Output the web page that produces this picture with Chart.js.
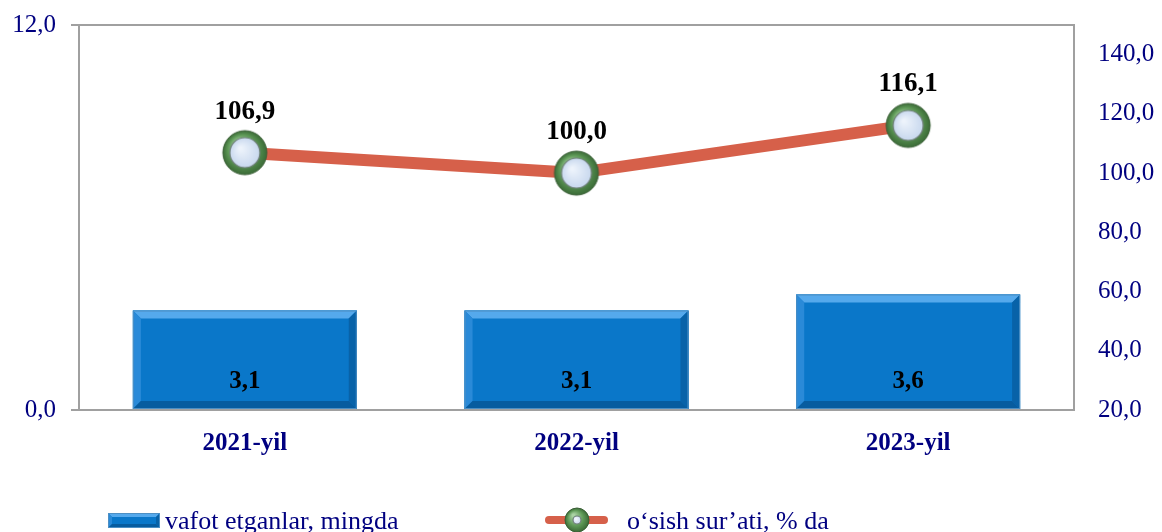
<!DOCTYPE html>
<html>
<head>
<meta charset="utf-8">
<script src="https://cdn.jsdelivr.net/npm/chart.js@4.4.1/dist/chart.umd.min.js"></script>
<style>
  html, body { margin: 0; padding: 0; background: #fff; }
  #wrap { width: 1162px; height: 532px; }
</style>
</head>
<body>
<div id="wrap"><canvas id="graph"></canvas></div>
<script>
// donnees
const categories = ['2021-yil', '2022-yil', '2023-yil'];
const deaths = [3.1, 3.1, 3.6];
const growth = [106.9, 100.0, 116.1];
const leftTicks = [0, 12];
const rightTicks = [20, 40, 60, 80, 100, 120, 140];
const barLabel = 'vafot etganlar, mingda';
const lineLabel = 'o\u2018sish sur\u2019ati, % da';

const navy = '#000080';
const serif = "'Liberation Serif', 'Times New Roman', serif";
const fmt = v => v.toFixed(1).replace('.', ',');

// marker du point (anneau vert + centre clair)
function makeMarker(r, inner) {
  const s = r * 2 + 4;
  const c = document.createElement('canvas');
  c.width = s; c.height = s;
  const g = c.getContext('2d');
  const m = s / 2;
  const grad = g.createRadialGradient(m - r * 0.3, m - r * 0.4, r * 0.1, m, m, r);
  grad.addColorStop(0, '#a9d2a3');
  grad.addColorStop(0.6, '#5f9a58');
  grad.addColorStop(1, '#3b6b37');
  g.beginPath(); g.arc(m, m, r, 0, Math.PI * 2);
  g.fillStyle = grad; g.fill();
  g.lineWidth = 1; g.strokeStyle = '#3a5f36'; g.stroke();
  g.beginPath(); g.arc(m, m, inner, 0, Math.PI * 2);
  const g2 = g.createRadialGradient(m - inner * 0.3, m - inner * 0.3, 1, m, m, inner);
  g2.addColorStop(0, '#eef4fc');
  g2.addColorStop(1, '#c8d8ee');
  g.fillStyle = g2; g.fill();
  g.strokeStyle = '#6f7f78'; g.lineWidth = 1.2; g.stroke();
  return c;
}
const marker = makeMarker(22, 15);
const legendMarker = makeMarker(12, 4);

// barres en relief
function bevelBar(ctx, x0, y0, x1, y1, b) {
  ctx.fillStyle = '#0a77c9';
  ctx.fillRect(x0, y0, x1 - x0, y1 - y0);
  const poly = (pts, col) => {
    ctx.beginPath();
    ctx.moveTo(pts[0][0], pts[0][1]);
    for (let i = 1; i < pts.length; i++) ctx.lineTo(pts[i][0], pts[i][1]);
    ctx.closePath();
    ctx.fillStyle = col; ctx.fill();
  };
  poly([[x0, y0], [x1, y0], [x1 - b, y0 + b], [x0 + b, y0 + b]], '#55a9ec');
  poly([[x0, y0], [x0 + b, y0 + b], [x0 + b, y1 - b], [x0, y1]], '#2a8ad8');
  poly([[x1, y0], [x1, y1], [x1 - b, y1 - b], [x1 - b, y0 + b]], '#0862a8');
  poly([[x0, y1], [x1, y1], [x1 - b, y1 - b], [x0 + b, y1 - b]], '#075c9f');
  ctx.strokeStyle = '#4d8fc4';
  ctx.lineWidth = 1;
  ctx.strokeRect(x0 + 0.5, y0 + 0.5, x1 - x0 - 1, y1 - y0 - 1);
}

const decor = {
  id: 'decor',
  beforeDatasetsDraw(chart) {
    const { ctx, chartArea } = chart;
    ctx.save();
    ctx.strokeStyle = '#a0a0a0';
    ctx.lineWidth = 2;
    ctx.beginPath();
    ctx.moveTo(chartArea.left - 8, chartArea.top);
    ctx.lineTo(chartArea.right + 1, chartArea.top);
    ctx.stroke();
    ctx.restore();
  },
  afterDatasetDraw(chart, args) {
    if (args.index !== 1) return;
    const ctx = chart.ctx;
    ctx.save();
    args.meta.data.forEach(el => {
      const w = el.width / 2;
      bevelBar(ctx, el.x - w, el.y, el.x + w, el.base, 8);
    });
    ctx.restore();
  },
  afterDatasetsDraw(chart) {
    const ctx = chart.ctx;
    ctx.save();
    ctx.fillStyle = '#000';
    ctx.textAlign = 'center';
    ctx.textBaseline = 'middle';
    ctx.font = 'bold 25px ' + serif;
    const bars = chart.getDatasetMeta(1).data;
    bars.forEach((el, i) => ctx.fillText(fmt(deaths[i]), el.x, el.base - 27));
    ctx.font = 'bold 27px ' + serif;
    const pts = chart.getDatasetMeta(0).data;
    pts.forEach((el, i) => ctx.fillText(fmt(growth[i]), el.x, el.y - 41));

    // legende
    const ly = 520;
    bevelBar(ctx, 108, 513, 160, 528, 4);
    ctx.textAlign = 'left';
    ctx.font = '26px ' + serif;
    ctx.fillStyle = navy;
    ctx.fillText(barLabel, 165, ly + 2);
    ctx.strokeStyle = '#d6604a';
    ctx.lineWidth = 8;
    ctx.lineCap = 'round';
    ctx.beginPath(); ctx.moveTo(549, ly); ctx.lineTo(604, ly); ctx.stroke();
    ctx.drawImage(legendMarker, 577 - legendMarker.width / 2, ly - legendMarker.height / 2);
    ctx.fillText(lineLabel, 627, ly + 2);
    ctx.restore();
  }
};

const ctx = document.getElementById('graph');

new Chart(ctx, {
  data: {
    labels: categories,
    datasets: [
      {
        type: 'line',
        label: lineLabel,
        data: growth,
        yAxisID: 'y1',
        borderColor: '#d6604a',
        borderWidth: 12,
        pointStyle: marker,
        pointRadius: 22,
        pointHoverRadius: 22,
        order: 0
      },
      {
        type: 'bar',
        label: barLabel,
        data: deaths,
        yAxisID: 'y',
        backgroundColor: '#0a77c9',
        barPercentage: 0.675,
        categoryPercentage: 1,
        order: 1
      }
    ]
  },
  options: {
    responsive: true,
    maintainAspectRatio: false,
    animation: false,
    layout: { autoPadding: false, padding: { top: 25, left: 0, right: 0, bottom: 0 } },
    plugins: {
      legend: { display: false },
      tooltip: { enabled: false }
    },
    scales: {
      x: {
        grid: { display: false },
        border: { color: '#a0a0a0', width: 2 },
        ticks: {
          color: navy,
          font: { family: serif, size: 25, weight: 'bold' },
          padding: 11
        },
        afterFit: s => { s.height = 122; s.paddingLeft = 0; s.paddingRight = 0; }
      },
      y: {
        position: 'left',
        min: 0,
        max: 12,
        afterBuildTicks: a => { a.ticks = leftTicks.map(v => ({ value: v })); },
        grid: { drawOnChartArea: false, tickLength: 8, color: '#a0a0a0', lineWidth: 2 },
        border: { color: '#a0a0a0', width: 2 },
        ticks: {
          color: navy,
          font: { family: serif, size: 25 },
          padding: 15,
          callback: v => fmt(v)
        },
        afterFit: s => { s.width = 79; s.paddingTop = 0; s.paddingBottom = 0; }
      },
      y1: {
        position: 'right',
        min: 20,
        max: 150,
        afterBuildTicks: a => { a.ticks = rightTicks.map(v => ({ value: v })); },
        grid: { display: false },
        border: { color: '#a0a0a0', width: 2 },
        ticks: {
          color: navy,
          font: { family: serif, size: 25 },
          padding: 16,
          callback: v => fmt(v)
        },
        afterFit: s => { s.width = 88; s.paddingTop = 0; s.paddingBottom = 0; }
      }
    }
  },
  plugins: [decor]
});
</script>
</body>
</html>
